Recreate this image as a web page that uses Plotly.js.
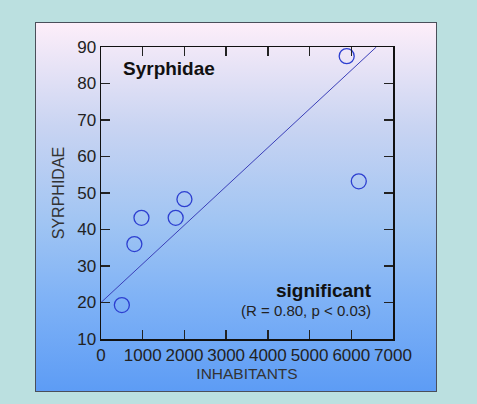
<!DOCTYPE html>
<html>
<head>
<meta charset="utf-8">
<script src="https://cdn.plot.ly/plotly-3.0.1.min.js"></script>
<style>
html,body{margin:0;padding:0;background:#bbe0e0;width:477px;height:404px;overflow:hidden;}
#bg{position:absolute;left:35px;top:22px;width:400px;height:368px;border:1.5px solid #4a4f5a;
background:linear-gradient(to bottom,#fdeef9 0%,#c9d4f2 28%,#9fc4f3 55%,#7fb2f6 75%,#5d9cf5 100%);}
#chart{position:absolute;left:0;top:0;width:477px;height:404px;}
</style>
</head>
<body>
<div id="bg"></div>
<div id="chart"></div>
<script>
const inhabitants = [500, 800, 970, 1790, 2000, 5890, 6180];
const syrphidae = [19.3, 36, 43.2, 43.2, 48.3, 87.5, 53.2];
const fitX = [0, 6600];
const fitY = [20, 90];
const xTicks = [0, 1000, 2000, 3000, 4000, 5000, 6000, 7000];
const yTicks = [10, 20, 30, 40, 50, 60, 70, 80, 90];

const font = "Liberation Sans, Arial, sans-serif";

const traces = [
  {x: fitX, y: fitY, mode: 'lines', type: 'scatter',
   line: {color: '#3b3fb8', width: 1}, hoverinfo: 'skip'},
  {x: inhabitants, y: syrphidae, mode: 'markers', type: 'scatter',
   marker: {symbol: 'circle-open', size: 15, color: '#2d3fd0', line: {width: 1.3, color: '#2d3fd0'}}}
];

const axisCommon = {
  showline: true, linecolor: '#111', linewidth: 1.5, mirror: 'ticks',
  ticks: 'inside', ticklen: 9, tickwidth: 1.3, tickcolor: '#222',
  showgrid: false, zeroline: false,
  tickfont: {family: font, size: 17, color: '#222'}
};

const layout = {
  width: 477, height: 404,
  margin: {l: 101, r: 84, t: 47, b: 65, pad: 0},
  paper_bgcolor: 'rgba(0,0,0,0)', plot_bgcolor: 'rgba(0,0,0,0)',
  showlegend: false,
  xaxis: Object.assign({}, axisCommon, {
    range: [0, 7000], tickvals: xTicks, ticktext: xTicks.map(String),
    title: {text: 'INHABITANTS', font: {family: font, size: 15.5, color: '#333'}, standoff: 4}
  }),
  yaxis: Object.assign({}, axisCommon, {
    range: [10, 90], tickvals: yTicks, ticktext: yTicks.map(String),
    title: {text: 'SYRPHIDAE', font: {family: font, size: 16, color: '#333'}, standoff: 8}
  }),
  annotations: [
    {text: '<b>Syrphidae</b>', xref: 'paper', yref: 'paper', x: 0.07, y: 0.926,
     xanchor: 'left', yanchor: 'middle', showarrow: false,
     font: {family: font, size: 19, color: '#111'}},
    {text: '<b>significant</b>', xref: 'paper', yref: 'paper', x: 0.934, y: 0.165,
     xanchor: 'right', yanchor: 'middle', showarrow: false,
     font: {family: font, size: 19, color: '#111'}},
    {text: '(R = 0.80, p < 0.03)', xref: 'paper', yref: 'paper', x: 0.932, y: 0.096,
     xanchor: 'right', yanchor: 'middle', showarrow: false,
     font: {family: font, size: 15, color: '#222'}}
  ]
};

Plotly.newPlot('chart', traces, layout, {displayModeBar: false, staticPlot: true});
</script>
</body>
</html>
